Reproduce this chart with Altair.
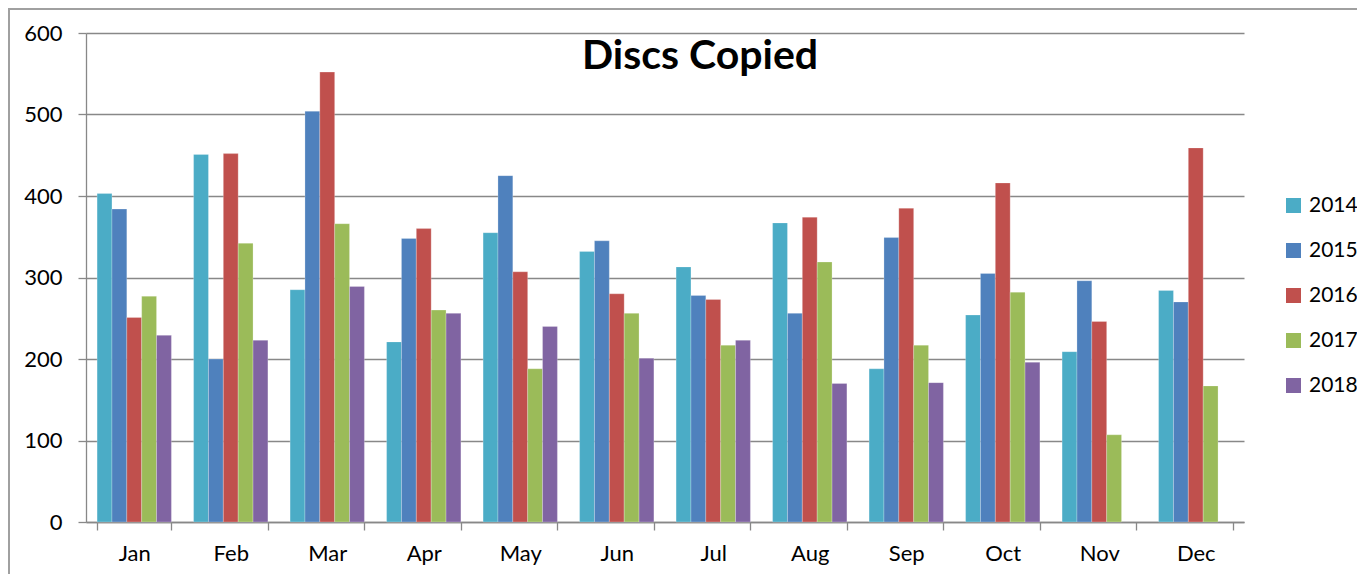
import altair as alt
import pandas as pd

months = ["Jan", "Feb", "Mar", "Apr", "May", "Jun", "Jul", "Aug", "Sep", "Oct", "Nov", "Dec"]
years = ["2014", "2015", "2016", "2017", "2018"]
colors = ["#4BACC6", "#4F81BD", "#C0504D", "#9BBB59", "#8064A2"]

v2014 = [403, 451, 285, 221, 355, 332, 313, 367, 188, 254, 209, 284]
v2015 = [384, 200, 504, 348, 425, 345, 278, 256, 349, 305, 296, 270]
v2016 = [251, 452, 552, 360, 307, 280, 273, 374, 385, 416, 246, 459]
v2017 = [277, 342, 366, 260, 188, 256, 217, 319, 217, 282, 107, 167]
v2018 = [229, 223, 289, 256, 240, 201, 223, 170, 171, 196, None, None]

series = {"2014": v2014, "2015": v2015, "2016": v2016, "2017": v2017, "2018": v2018}
rows = []
for y in years:
    for m, v in zip(months, series[y]):
        if v is not None:
            rows.append({"Month": m, "Year": y, "Discs": v})
df = pd.DataFrame(rows)

FONT = "Lato"
GRID = "#888888"

bars = alt.Chart(df).mark_bar(stroke="#ffffff", strokeWidth=0.4, strokeOpacity=0.6).encode(
    x=alt.X("Month:N", sort=months,
            scale=alt.Scale(paddingInner=0.23, paddingOuter=0.115),
            axis=alt.Axis(title=None, labelAngle=0, labelFontSize=22, labelFont=FONT,
                          labelColor="#000000", labelPadding=13, tickBand="extent",
                          tickSize=8, tickColor=GRID, tickWidth=1.3, domainColor=GRID,
                          domainWidth=1.3, grid=False)),
    xOffset=alt.XOffset("Year:N", sort=years),
    y=alt.Y("Discs:Q", scale=alt.Scale(domain=[0, 600], nice=False),
            axis=alt.Axis(title=None, values=[0, 100, 200, 300, 400, 500, 600],
                          labelFontSize=22, labelFont=FONT, labelColor="#000000",
                          labelPadding=16, tickSize=8, tickColor=GRID, tickWidth=1.3,
                          domainColor=GRID, domainWidth=1.3,
                          gridColor=GRID, gridWidth=1.3, grid=True)),
    color=alt.Color("Year:N", sort=years,
                    scale=alt.Scale(domain=years, range=colors),
                    legend=alt.Legend(title=None, orient="none", legendX=1197, legendY=162,
                                      symbolType="square", symbolSize=225,
                                      symbolStrokeWidth=0, labelFontSize=21,
                                      labelFont=FONT, labelColor="#000000",
                                      labelOffset=5, rowPadding=23, padding=0)),
)

border = alt.Chart(df).mark_rect(fill=None, stroke="#a0a0a0", strokeWidth=1.5).encode(
    x=alt.value(-77), x2=alt.value(1400), y=alt.value(-24), y2=alt.value(700)
)

chart = alt.layer(border, bars).properties(
    width=1158, height=489,
    autosize=alt.AutoSizeParams(type="none"),
    padding={"left": 78, "top": 25, "right": 113, "bottom": 52},
    title=alt.Title("Discs Copied", fontSize=41, font=FONT, fontWeight="bold",
                    color="#000000", anchor="middle", dx=35, offset=-70),
).configure_view(stroke=None)

chart.save("out.html", embed_options={"renderer": "svg", "actions": False})
